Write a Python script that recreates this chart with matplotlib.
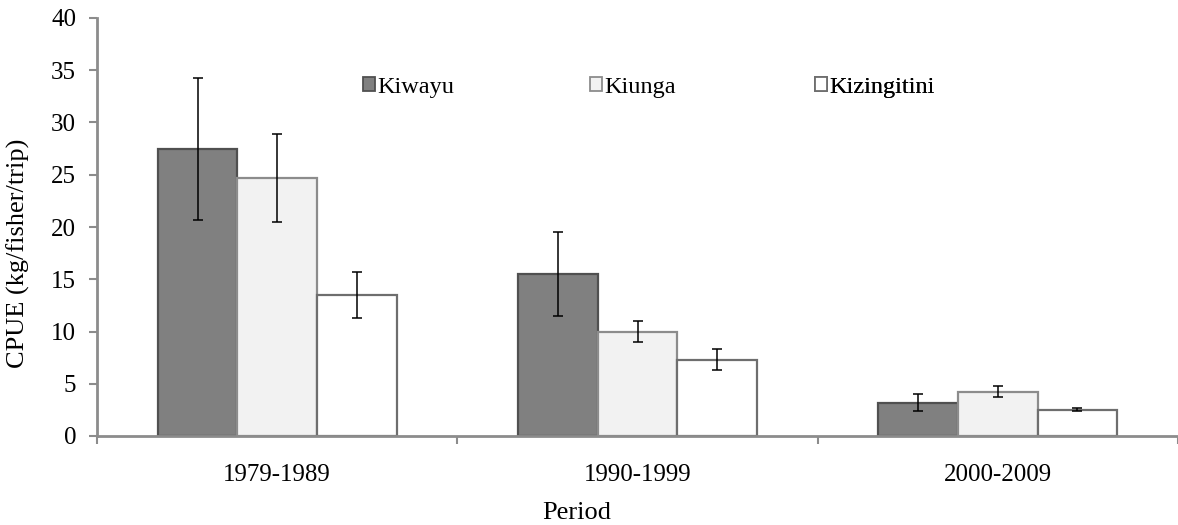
import numpy as np
import matplotlib.pyplot as plt
from matplotlib.patches import Patch

plt.rcParams['font.family'] = ['Liberation Serif', 'DejaVu Serif']

# CPUE by landing site and decade
periods = ['1979-1989', '1990-1999', '2000-2009']
sites = ['Kiwayu', 'Kiunga', 'Kizingitini']
kiwayu = [27.5, 15.5, 3.2]
kiunga = [24.7, 10.0, 4.25]
kizingitini = [13.5, 7.3, 2.5]
kiwayu_err = [6.8, 4.0, 0.8]
kiunga_err = [4.2, 1.05, 0.55]
kizingitini_err = [2.2, 1.0, 0.15]

means = [kiwayu, kiunga, kizingitini]
errs = [kiwayu_err, kiunga_err, kizingitini_err]
fills = ['#808080', '#f2f2f2', '#ffffff']
edges = ['#505050', '#8c8c8c', '#6e6e6e']

fig = plt.figure(figsize=(11.78, 5.25), dpi=100)
ax = fig.add_axes([97 / 1178, 89 / 525, 1081 / 1178, 418 / 525])

x = np.arange(len(periods))
w = 0.221
for i in range(3):
    ax.bar(x + (i - 1) * w, means[i], w, color=fills[i], edgecolor=edges[i],
           linewidth=1.6, zorder=2)
    ax.errorbar(x + (i - 1) * w, means[i], yerr=errs[i], fmt='none',
                ecolor='black', elinewidth=1.1, capsize=3.8, capthick=1.1, zorder=3)

ax.set_xlim(-0.5, 0.5 + 1081 / 366 - 1)
ax.set_ylim(0, 40)
ax.set_yticks(range(0, 41, 5))
ax.set_xticks(x)
ax.set_xticklabels(periods)
ax.set_xticks(np.arange(-0.5, 3.0, 1.0), minor=True)

for s in ['top', 'right']:
    ax.spines[s].set_visible(False)
for s in ['left', 'bottom']:
    ax.spines[s].set_color('#8c8c8c')
    ax.spines[s].set_linewidth(2)

ax.tick_params(axis='y', direction='out', length=6, width=1.5, color='#8c8c8c',
               labelsize=18, pad=9)
ax.tick_params(axis='x', which='major', length=0, labelsize=18, pad=20)
ax.tick_params(axis='x', which='minor', length=6, width=1.5, color='#8c8c8c')

ax.set_ylabel('CPUE (kg/fisher/trip)', fontsize=19)
ax.yaxis.set_label_coords(-0.062, 0.438)
ax.set_xlabel('Period', fontsize=19)
ax.xaxis.set_label_coords(0.444, -0.158)

# evenly spaced legend entries, one legend per site
legend_x = [0.246, 0.456, 0.664]
for i in range(3):
    h = Patch(facecolor=fills[i], edgecolor=edges[i], linewidth=1.3)
    leg = ax.legend([h], [sites[i]], loc='upper left',
                    bbox_to_anchor=(legend_x[i], 0.86), frameon=False,
                    fontsize=17.5, handlelength=0.5, handleheight=0.5,
                    handletextpad=0.1, borderaxespad=0, borderpad=0)
    ax.add_artist(leg)

fig.savefig('out.png', dpi=100)
